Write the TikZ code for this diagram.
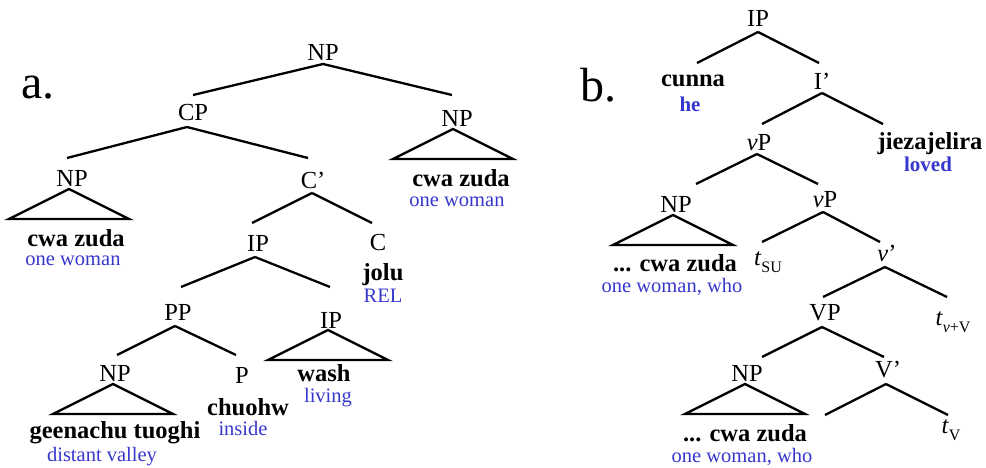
\documentclass[tikz,border=0pt]{standalone}
\usepackage{fontspec}
\setmainfont{Liberation Serif}
\usetikzlibrary{calc}
\definecolor{gl}{RGB}{55,55,205}
\newcommand\br[4]{\draw ($(#1)+(#2)$) -- ($(#3)+(#4)$);}
\newcommand\tri[2]{\draw ($(#1)+(#2)$) -- ++(-60,30) -- ++(120,0) -- cycle;}
\newcommand\sbs[1]{\raisebox{-7pt}{\fontsize{16}{16}\selectfont #1}}
\begin{document}
\begin{tikzpicture}[x=1pt,y=-1pt,line width=2.3pt,line join=miter,
  every node/.style={inner sep=0pt},
  cat/.style={font=\fontsize{24.5}{24}\selectfont},
  word/.style={font=\fontsize{24.5}{24}\selectfont\bfseries},
  gloss/.style={font=\fontsize{20.5}{20}\selectfont,text=gl},
  glossb/.style={font=\fontsize{21}{20}\selectfont\bfseries,text=gl},
  big/.style={font=\fontsize{48}{48}\selectfont}]
\useasboundingbox (0,0) rectangle (986,468);
% ---------- tree a ----------
\node[big] (la) at (38,88) {a.};
\node[cat] (np0) at (323,52) {NP};
\node[cat] (cp) at (193,113) {CP};
\node[cat] (np2) at (457,118) {NP};
\node[word] (cz2) at (461,178) {cwa zuda};
\node[gloss] (g2) at (457,202) {one woman};
\node[cat] (np1) at (72,178) {NP};
\node[word] (cz1) at (76,238) {cwa zuda};
\node[gloss] (g1) at (73,261) {one woman};
\node[cat] (cbar) at (313,180) {C’};
\node[cat] (ip) at (258,243) {IP};
\node[cat] (c) at (378,243) {C};
\node[word] (jolu) at (383,275) {jolu};
\node[gloss] (rel) at (383,296) {REL};
\node[cat] (pp) at (178,312) {PP};
\node[cat] (ip2) at (331,320) {IP};
\node[word] (wash) at (324,373) {wash};
\node[gloss] (living) at (328,398) {living};
\node[cat] (np3) at (115,373) {NP};
\node[word] (gt) at (115,433) {geenachu tuoghi};
\node[gloss] (dv) at (102,457) {distant valley};
\node[cat] (p) at (242,375) {P};
\node[word] (ch) at (248,407) {chuohw};
\node[gloss] (ins) at (243,428) {inside};
\br{np0}{0,12}{cp}{0,-18}
\br{np0}{0,12}{np2}{-5,-23}
\br{cp}{-6,14}{np1}{-5,-20}
\br{cp}{-6,14}{cbar}{-5,-22}
\br{cbar}{-1,13}{ip}{-6,-20}
\br{cbar}{-1,13}{c}{-6,-20}
\br{ip}{-3,14}{pp}{3,-25}
\br{ip}{-3,14}{ip2}{-1,-33}
\br{pp}{-3,14}{np3}{2,-18}
\br{pp}{-3,14}{p}{-6,-20}
\tri{np2}{-4,11}
\tri{np1}{-3,11}
\tri{ip2}{-3,10}
\tri{np3}{-2,11}
% ---------- tree b ----------
\node[big] (lb) at (598,85) {b.};
\node[cat] (ipb) at (758,18) {IP};
\node[word] (cunna) at (693,81) {cunna};
\node[glossb] (he) at (690,104) {he};
\node[cat] (ib) at (822,81) {I’};
\node[cat] (vp1) at (759,143) {\textit{v}P};
\node[word] (jz) at (930,144) {jiezajelira};
\node[glossb] (loved) at (928,164) {loved};
\node[cat] (np4) at (676,204) {NP};
\node[word] (cz4) at (675,263) {... cwa zuda};
\node[gloss] (g4) at (672,287) {one woman, who};
\node[cat] (vp2) at (825,200) {\textit{v}P};
\node[cat] (tsu) at (768,262) {\textit{t}\sbs{SU}};
\node[cat] (vbar) at (887,253) {\textit{v}’};
\node[cat] (vp) at (825,313) {VP};
\node[cat] (tvv) at (953,322) {\textit{t}\sbs{\textit{v}+V}};
\node[cat] (np5) at (747,373) {NP};
\node[word] (cz5) at (745,433) {... cwa zuda};
\node[gloss] (g5) at (742,457) {one woman, who};
\node[cat] (vbar2) at (888,370) {V’};
\node[cat] (tv) at (951,430) {\textit{t}\sbs{V}};
\coordinate (vfree) at (825,415);
\br{ipb}{0,14}{cunna}{4,-18}
\br{ipb}{0,14}{ib}{-3,-18}
\br{ib}{0,12}{vp1}{3,-19}
\br{ib}{0,12}{jz}{-47,-20}
\br{vp1}{-2,11}{np4}{20,-20}
\br{vp1}{-2,11}{vp2}{-7,-16}
\br{vp2}{-2,12}{tsu}{-6,-20}
\br{vp2}{-2,12}{vbar}{-7,-11}
\br{vbar}{-2,14}{vp}{-2,-16}
\br{vbar}{-2,14}{tvv}{-6,-25}
\br{vp}{-3,14}{np5}{15,-16}
\br{vp}{-3,14}{vbar2}{-4,-13}
\br{vbar2}{-2,14}{vfree}{0,0}
\br{vbar2}{-2,14}{tv}{-3,-15}
\tri{np4}{-3,11}
\tri{np5}{-2,11}
\end{tikzpicture}
\end{document}
